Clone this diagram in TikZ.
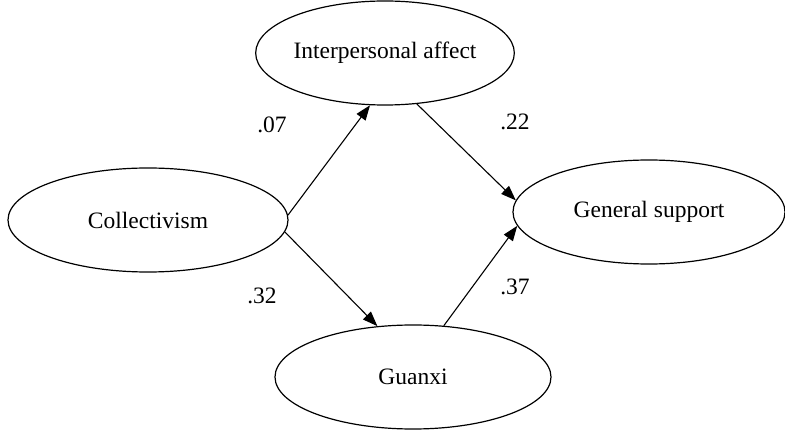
\documentclass[tikz,border=0pt]{standalone}
\usepackage{fontspec}
\setmainfont{Liberation Serif}
\usetikzlibrary{shapes.geometric,arrows.meta}
\begin{document}
\begin{tikzpicture}[x=1pt,y=-1pt,
  var/.style={ellipse,draw,line width=1.2pt,inner sep=0pt,font=\fontsize{23.5}{28}\selectfont},
  edge/.style={line width=1.1pt,-{Triangle[length=15pt,width=11pt]}},
  coef/.style={font=\fontsize{23.5}{28}\selectfont}]
\useasboundingbox (0,0) rectangle (785,430);
\node[var,minimum width=250pt,minimum height=104pt] (ia) at (385,53) {Interpersonal affect};
\node[var,minimum width=280pt,minimum height=104pt] (co) at (148,220) {Collectivism};
\node[var,minimum width=272pt,minimum height=104pt] (gs) at (649,212) {General support};
\node[var,minimum width=276pt,minimum height=104pt] (gu) at (413,377) {Guanxi};
\draw[edge] (co.2) -- (ia.-106);
\draw[edge] (ia.-58) -- (gs.175);
\draw[edge] (co.-5) -- (gu.125);
\draw[edge] (gu.59) -- (gs.186);
\node[coef] (l1) at (272,125) {.07};
\node[coef] (l2) at (515,122) {.22};
\node[coef] (l3) at (262,296) {.32};
\node[coef] (l4) at (515,287) {.37};
\end{tikzpicture}
\end{document}
